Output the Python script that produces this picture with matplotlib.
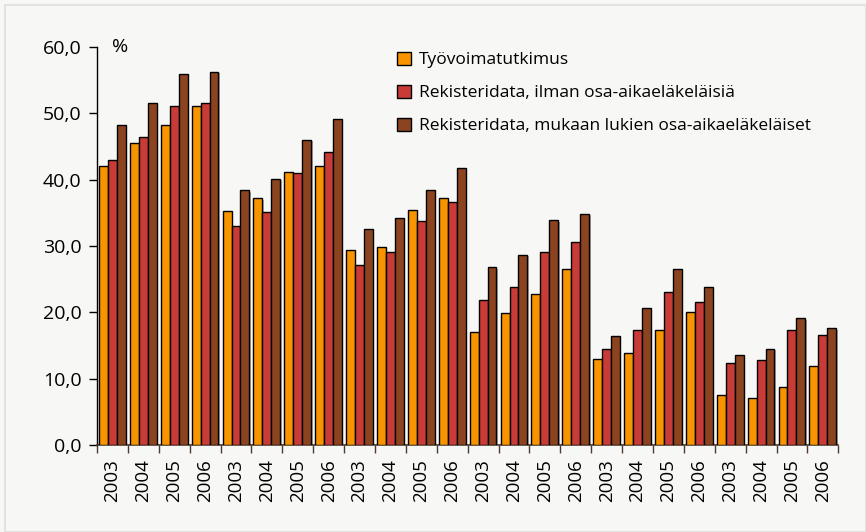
import matplotlib
matplotlib.use("Agg")
import matplotlib.pyplot as plt
from matplotlib.patches import Rectangle
import matplotlib.patheffects as pe
import numpy as np
from matplotlib import font_manager

# data (per cent)
years = ["2003", "2004", "2005", "2006"] * 6
tyovoima = [42.0, 45.5, 48.2, 51.1,
            35.3, 37.2, 41.2, 42.0,
            29.4, 29.9, 35.4, 37.3,
            17.0, 19.9, 22.8, 26.5,
            13.0, 13.8, 17.4, 20.1,
            7.5, 7.1, 8.7, 11.9]
rek_ilman = [43.0, 46.4, 51.1, 51.6,
             33.0, 35.1, 41.0, 44.2,
             27.1, 29.1, 33.8, 36.7,
             21.8, 23.9, 29.1, 30.6,
             14.5, 17.4, 23.1, 21.5,
             12.3, 12.8, 17.3, 16.6]
rek_mukaan = [48.2, 51.5, 55.9, 56.3,
              38.4, 40.1, 46.0, 49.1,
              32.5, 34.3, 38.4, 41.7,
              26.8, 28.7, 33.9, 34.9,
              16.5, 20.7, 26.5, 23.8,
              13.6, 14.5, 19.1, 17.6]
labels = ["Työvoimatutkimus",
          "Rekisteridata, ilman osa-aikaeläkeläisiä",
          "Rekisteridata, mukaan lukien osa-aikaeläkeläiset"]
colors = ["#f79400", "#c83b37", "#8c4420"]

avail = set(f.name for f in font_manager.fontManager.ttflist)
fam = [f for f in ["Liberation Sans Narrow", "DejaVu Sans Condensed", "Open Sans", "DejaVu Sans"] if f in avail]
plt.rcParams['font.family'] = fam

bg = "#f7f7f5"
fig = plt.figure(figsize=(8.66, 5.32), dpi=100, facecolor=bg)
fig.patches.append(Rectangle((0.006, 0.0), 0.994, 0.99, transform=fig.transFigure,
                             fill=False, edgecolor="#e2e2e0", linewidth=1.5))
ax = fig.add_axes([0.112, 0.1635, 0.856, 0.748])
ax.set_facecolor(bg)

x = np.arange(len(years)) + 0.5
w = 0.289
shadow = [pe.SimplePatchShadow(offset=(1, -1), alpha=0.35), pe.Normal()]
for i, (vals, c, lab) in enumerate(zip([tyovoima, rek_ilman, rek_mukaan], colors, labels)):
    bars = ax.bar(x + (i - 1) * w, vals, width=w, color=c, edgecolor="black",
                  linewidth=1.0, label=lab, zorder=3)
    for b in bars:
        b.set_path_effects(shadow)

ax.set_xlim(0, len(years))
ax.set_ylim(0, 60)
ax.set_yticks(np.arange(0, 61, 10))
ax.set_yticklabels([f"{v:.1f}".replace(".", ",") for v in np.arange(0, 61, 10)], fontsize=14)
ax.set_xticks(np.arange(0, len(years) + 1), minor=False)
ax.set_xticklabels([])
ax.set_xticks(x, minor=True)
ax.set_xticklabels(years, minor=True, rotation=90, fontsize=13.5)
ax.tick_params(axis="x", which="major", length=6, color="#4a3a30", width=1)
ax.tick_params(axis="x", which="minor", length=0, pad=10)
ax.tick_params(axis="y", length=6, width=1, pad=5)

for s in ["top", "right"]:
    ax.spines[s].set_visible(False)
ax.spines["left"].set_linewidth(1)
ax.spines["bottom"].set_color("#4a3a30")
ax.spines["bottom"].set_linewidth(1.2)

ax.text(0.5, 60, "%", fontsize=14, va="center", ha="left")

ax.legend(loc="upper left", bbox_to_anchor=(0.396, 1.005), frameon=False, fontsize=12.5,
          handlelength=0.75, handleheight=0.75, handletextpad=0.5, labelspacing=0.95,
          borderaxespad=0)

fig.savefig("out.png", dpi=100, facecolor=bg)
